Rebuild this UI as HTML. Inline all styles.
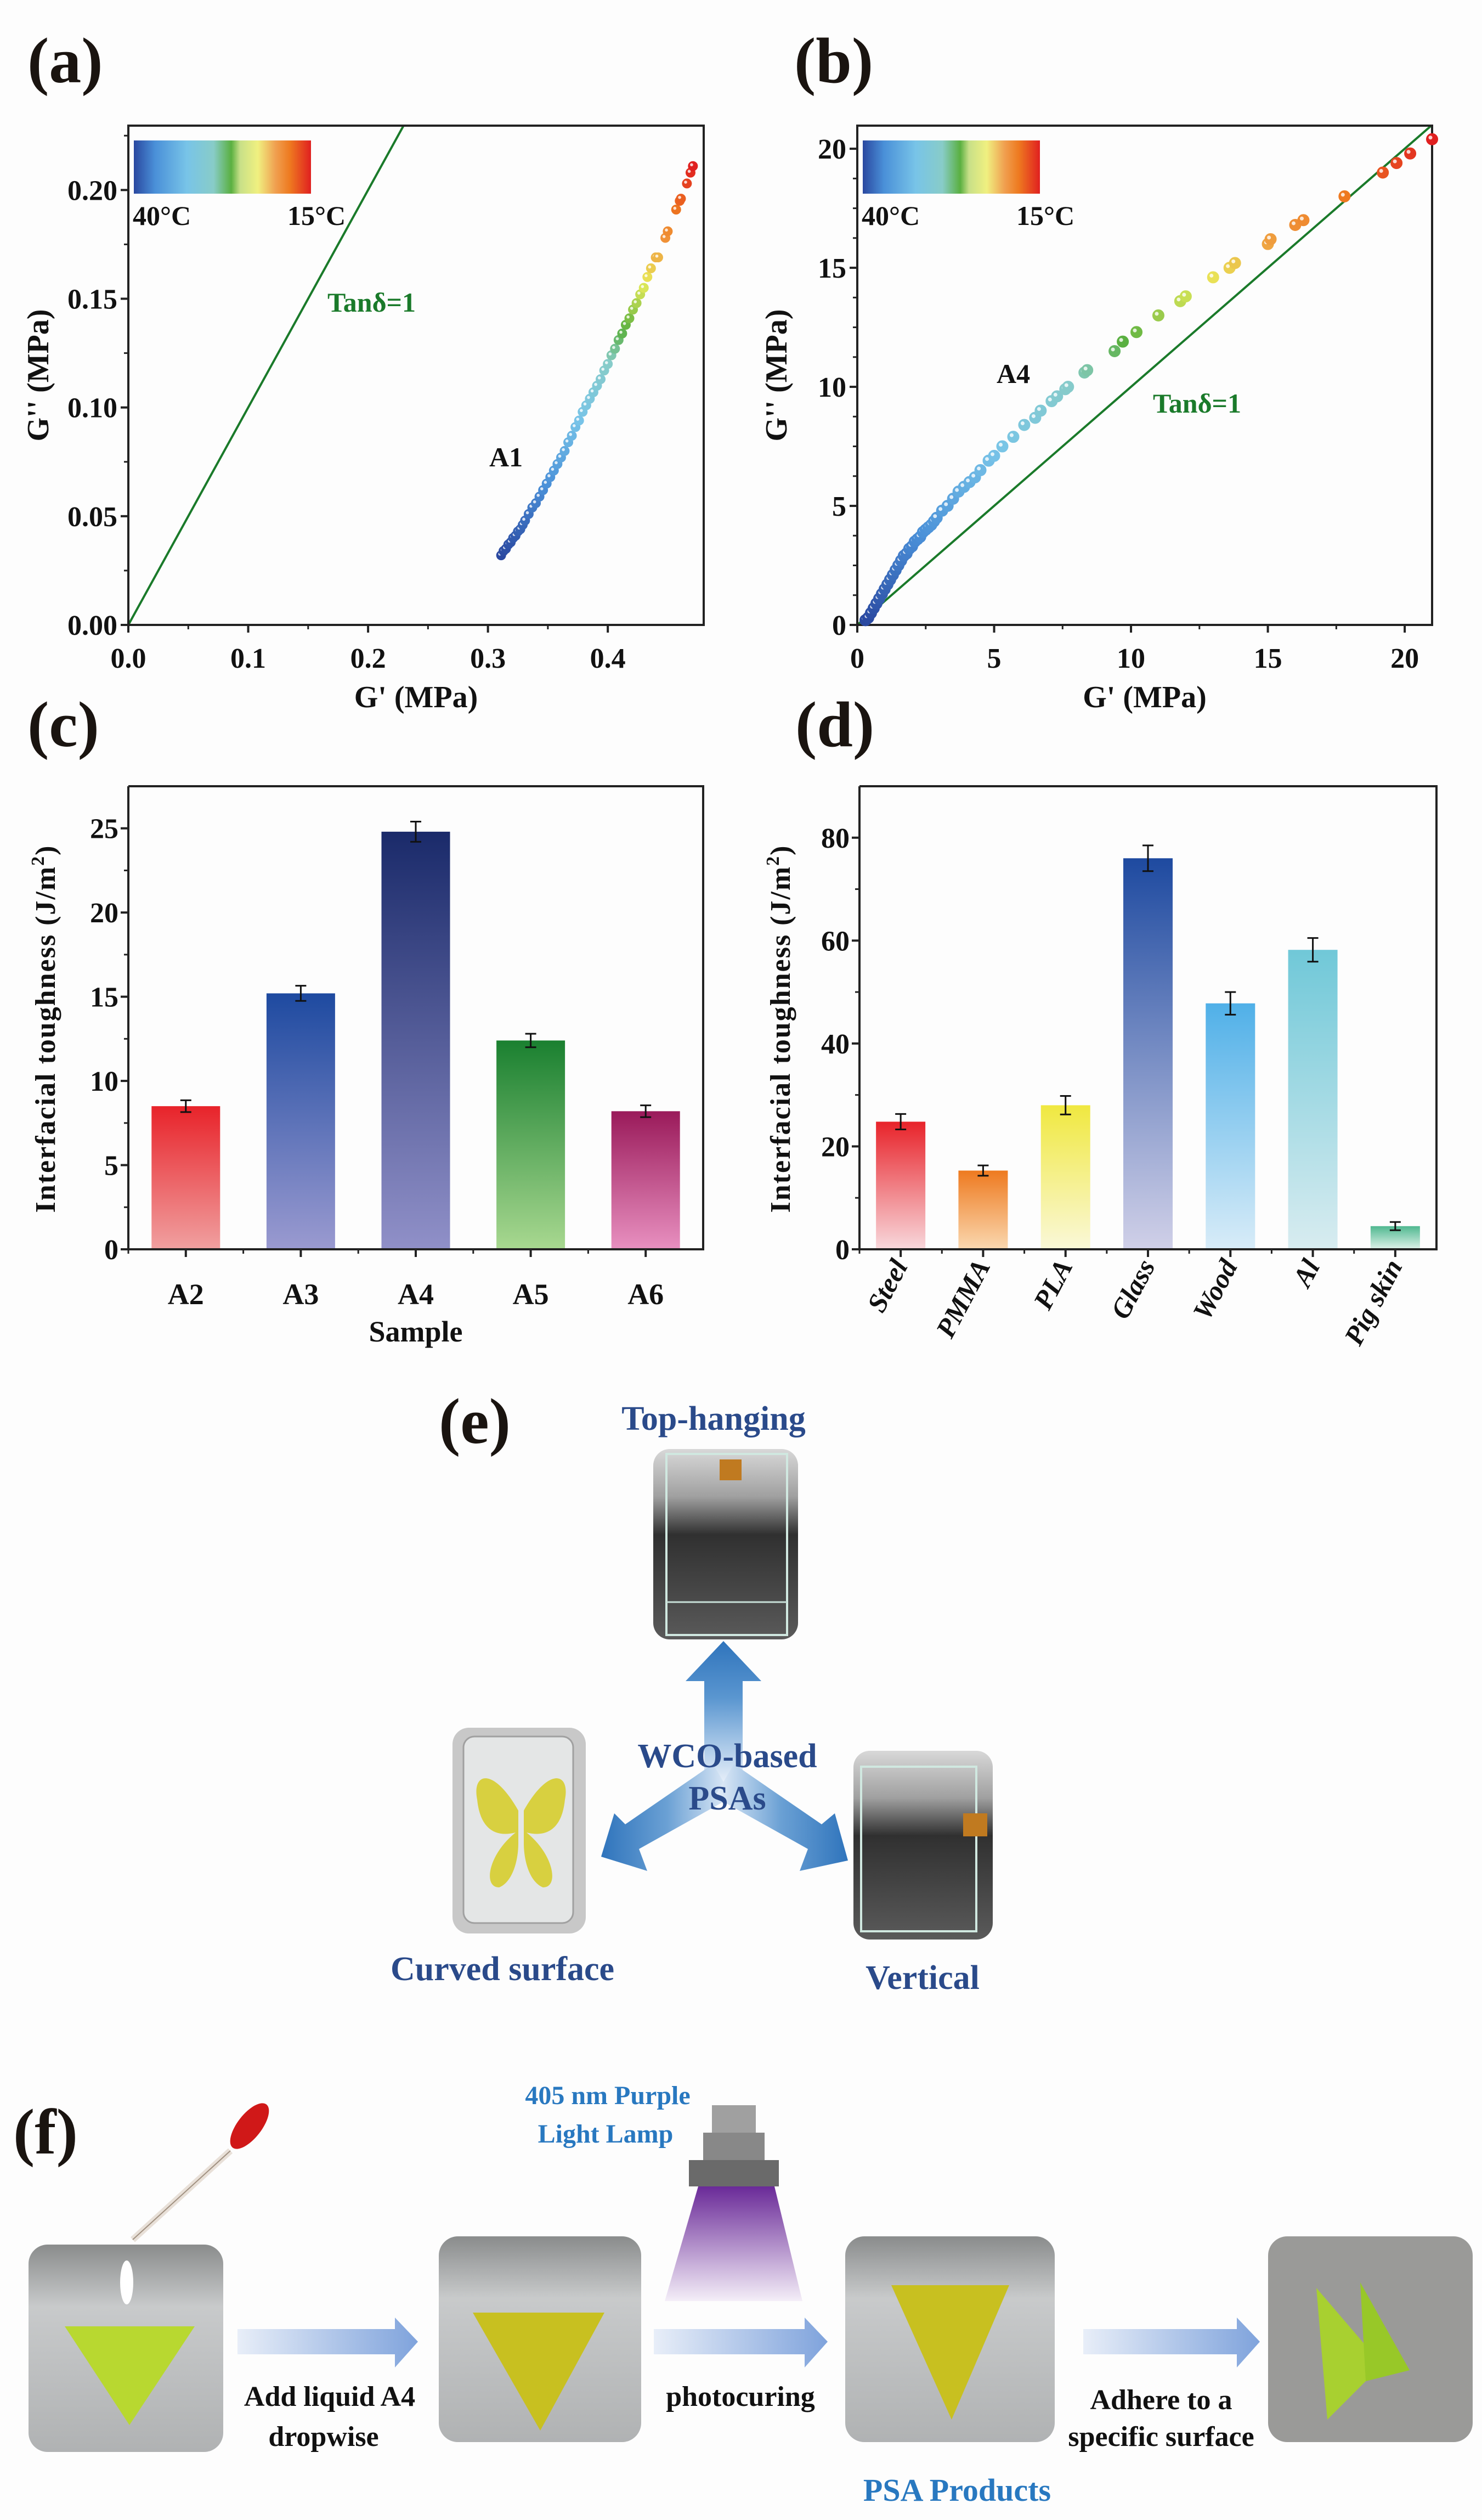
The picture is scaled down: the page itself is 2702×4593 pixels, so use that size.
<!DOCTYPE html>
<html><head><meta charset="utf-8">
<style>
html,body{margin:0;padding:0;background:#fdfdfd;}
svg{display:block;font-family:"Liberation Serif",serif;font-weight:bold;}
</style></head>
<body>
<svg id="fig" width="2702" height="4593" viewBox="0 0 2702 4593" xmlns="http://www.w3.org/2000/svg">
<defs>
 <linearGradient id="cbar" x1="0" x2="1" y1="0" y2="0">
  <stop offset="0" stop-color="#2a48a0"/><stop offset="0.12" stop-color="#4a90d8"/>
  <stop offset="0.3" stop-color="#78c4e8"/><stop offset="0.45" stop-color="#88ccc8"/>
  <stop offset="0.55" stop-color="#5ab040"/><stop offset="0.6" stop-color="#c8e088"/>
  <stop offset="0.7" stop-color="#f0f080"/><stop offset="0.8" stop-color="#f0a050"/>
  <stop offset="0.88" stop-color="#ee7a20"/><stop offset="1" stop-color="#e02020"/>
 </linearGradient>
 <linearGradient id="arrH" x1="0" x2="1"><stop offset="0" stop-color="#e8eef8"/><stop offset="1" stop-color="#7fa3dc"/></linearGradient>
 <linearGradient id="arrU" x1="0" x2="0" y1="1" y2="0"><stop offset="0" stop-color="#e8f0fa"/><stop offset="0.6" stop-color="#5a96d0"/><stop offset="1" stop-color="#2f74bc"/></linearGradient>
 <linearGradient id="arrL" x1="1" x2="0"><stop offset="0" stop-color="#e8f0fa"/><stop offset="0.5" stop-color="#6aa0d4"/><stop offset="1" stop-color="#2f74bc"/></linearGradient>
 <linearGradient id="arrR" x1="0" x2="1"><stop offset="0" stop-color="#e8f0fa"/><stop offset="0.5" stop-color="#6aa0d4"/><stop offset="1" stop-color="#2f74bc"/></linearGradient>
 <linearGradient id="cone" x1="0" x2="0" y1="0" y2="1"><stop offset="0" stop-color="#6a2a98"/><stop offset="1" stop-color="#f4eef8"/></linearGradient>
 <linearGradient id="photoBg" x1="0" x2="0" y1="0" y2="1"><stop offset="0" stop-color="#8a8c8c"/><stop offset="0.3" stop-color="#c8cacb"/><stop offset="1" stop-color="#b0b2b3"/></linearGradient>
 <linearGradient id="boxBg" x1="0" x2="0" y1="0" y2="1"><stop offset="0" stop-color="#d8d8d8"/><stop offset="0.25" stop-color="#a0a0a0"/><stop offset="0.45" stop-color="#303030"/><stop offset="1" stop-color="#5a5a5a"/></linearGradient>
</defs>
<g id="panels"></g>
</svg>
<script>
// ---------- Panel (a) data ----------
const aGp = [0.311,0.313,0.315,0.317,0.319,0.321,0.323,0.325,0.327,0.329,0.331,0.334,0.337,0.340,0.343,0.346,0.349,0.352,0.355,0.358,0.361,0.364,0.367,0.370,0.373,0.376,0.379,0.382,0.385,0.388,0.391,0.394,0.397,0.400,0.403,0.406,0.409,0.412,0.415,0.418,0.421,0.424,0.427,0.430,0.433,0.436,0.440,0.442,0.448,0.450,0.457,0.460,0.461,0.466,0.469,0.471];
const aGpp = [0.032,0.034,0.035,0.037,0.038,0.040,0.041,0.043,0.044,0.046,0.048,0.051,0.054,0.056,0.059,0.062,0.065,0.068,0.071,0.074,0.077,0.080,0.084,0.087,0.091,0.094,0.098,0.101,0.104,0.107,0.110,0.113,0.117,0.120,0.124,0.127,0.131,0.134,0.138,0.141,0.145,0.148,0.152,0.155,0.160,0.164,0.169,0.169,0.178,0.181,0.191,0.195,0.196,0.203,0.208,0.211];
const aXTicks = [0.0,0.1,0.2,0.3,0.4];
const aYTicks = [0.00,0.05,0.10,0.15,0.20];
const aYLabels = ["0.00","0.05","0.10","0.15","0.20"];
// ---------- Panel (b) data ----------
const bGp = [0.3,0.4,0.5,0.6,0.7,0.8,0.9,1.0,1.1,1.2,1.3,1.4,1.5,1.6,1.7,1.8,1.9,2.0,2.1,2.2,2.3,2.4,2.5,2.6,2.7,2.8,2.9,3.1,3.3,3.5,3.7,3.9,4.1,4.3,4.5,4.8,5.0,5.3,5.7,6.1,6.5,6.7,7.1,7.3,7.6,7.7,8.3,8.4,9.4,9.7,10.2,11.0,11.8,12.0,13.0,13.6,13.8,15.0,15.1,16.0,16.3,17.8,19.2,19.7,20.2,21.0];
const bGpp = [0.2,0.3,0.5,0.7,0.9,1.1,1.3,1.5,1.7,1.9,2.1,2.3,2.5,2.7,2.9,3.0,3.2,3.3,3.5,3.6,3.7,3.9,4.0,4.1,4.2,4.35,4.5,4.8,5.0,5.3,5.6,5.8,6.0,6.2,6.5,6.9,7.1,7.5,7.9,8.4,8.7,9.0,9.4,9.6,9.9,10.0,10.6,10.7,11.5,11.9,12.3,13.0,13.6,13.8,14.6,15.0,15.2,16.0,16.2,16.8,17.0,18.0,19.0,19.4,19.8,20.4];
const bXTicks = [0,5,10,15,20];
const bYTicks = [0,5,10,15,20];
// ---------- Panel (c) data ----------
const cCats = ["A2","A3","A4","A5","A6"];
const cVals = [8.5,15.2,24.8,12.4,8.2];
const cErrs = [0.35,0.45,0.6,0.4,0.35];
const cTicks = [0,5,10,15,20,25];
// ---------- Panel (d) data ----------
const dCats = ["Steel","PMMA","PLA","Glass","Wood","Al","Pig skin"];
const dVals = [24.8,15.3,28.0,76.0,47.8,58.2,4.5];
const dErrs = [1.5,1.0,1.8,2.5,2.2,2.3,0.8];
const dTicks = [0,20,40,60,80];

const NS="http://www.w3.org/2000/svg";
const root=document.getElementById('panels');
function mk(tag,attrs,parent,txt){const e=document.createElementNS(NS,tag);for(const k in attrs)e.setAttribute(k,attrs[k]);if(txt!==undefined)e.textContent=txt;(parent||root).appendChild(e);return e;}
function grp(name,parent){const g=mk('g',{},parent);


return g;}

const cstops=[[0,[42,72,160]],[0.18,[74,144,216]],[0.35,[120,196,232]],[0.5,[136,204,200]],[0.58,[90,176,64]],[0.7,[232,236,90]],[0.8,[240,150,60]],[0.88,[238,122,32]],[1,[224,32,32]]];
function cmap(t){t=Math.max(0,Math.min(1,t));for(let i=1;i<cstops.length;i++){if(t<=cstops[i][0]){const a=cstops[i-1],b=cstops[i];const f=(t-a[0])/(b[0]-a[0]);return 'rgb('+a[1].map((v,j)=>Math.round(v+(b[1][j]-v)*f)).join(',')+')';}}return 'rgb(224,32,32)';}

function scatterPanel(o){
 const g=grp(o.name);
 const X=v=>o.L+(v-o.x0)/(o.x1-o.x0)*(o.R-o.L);
 const Y=v=>o.B-(v-o.y0)/(o.y1-o.y0)*(o.B-o.T);
 // label
 const lab=mk('text',{x:o.labX,y:o.labY,'font-size':118,fill:'#1a1410'},g,o.letter);
 
 
 // tan line
 const tl=mk('line',{x1:X(0),y1:Y(0),x2:X(o.lineEnd),y2:Y(o.lineEnd),stroke:'#1a7a2a','stroke-width':4},g);
 
 
 // ticks
 const ax=grp('axes',g);
 o.xt.forEach((v,i)=>{mk('line',{x1:X(v),x2:X(v),y1:o.B,y2:o.B+14,stroke:'#222','stroke-width':4},ax);
   const t=mk('text',{x:X(v),y:o.B+78,'text-anchor':'middle','font-size':52,fill:'#111'},ax,o.xl[i]);
   
   
   if(i<o.xt.length-1||o.xMinorEnd){const m=v+(o.xt[1]-o.xt[0])/2; if(m<o.x1) mk('line',{x1:X(m),x2:X(m),y1:o.B,y2:o.B+8,stroke:'#222','stroke-width':3},ax);}});
 o.yt.forEach((v,i)=>{mk('line',{x1:o.L-14,x2:o.L,y1:Y(v),y2:Y(v),stroke:'#222','stroke-width':4},ax);
   const t=mk('text',{x:o.L-20,y:Y(v)+18,'text-anchor':'end','font-size':52,fill:'#111'},ax,o.yl[i]);
   
   
   const st=(o.yt[1]-o.yt[0])/(o.yMinor||2);for(let k=1;k<(o.yMinor||2);k++){const m=v+st*k;if(m<o.y1)mk('line',{x1:o.L-8,x2:o.L,y1:Y(m),y2:Y(m),stroke:'#222','stroke-width':3},ax);}});
 const fr=mk('rect',{x:o.L,y:o.T,width:o.R-o.L,height:o.B-o.T,fill:'none',stroke:'#222','stroke-width':4},ax);
 
 
 const xt=mk('text',{x:(o.L+o.R)/2,y:o.B+150,'text-anchor':'middle','font-size':56,fill:'#111'},g,"G' (MPa)");
 
 
 const yt=mk('text',{x:0,y:0,'text-anchor':'middle','font-size':56,fill:'#111',transform:`translate(${o.ytX},${(o.T+o.B)/2}) rotate(-90)`},g,"G'' (MPa)");
 
 
 // colorbar
 const cb=mk('rect',{x:o.L+10,y:256,width:323,height:97,fill:'url(#cbar)'},g);
 
 
 const c1=mk('text',{x:o.L+8,y:410,'font-size':50,fill:'#111'},g,'40°C');
 
 
 const c2=mk('text',{x:o.L+290,y:410,'font-size':50,fill:'#111'},g,'15°C');
 
 
 const tn=mk('text',{x:o.tanX,y:o.tanY,'font-size':50,fill:'#1a7a2a'},g,'Tanδ=1');
 
 
 const sn=mk('text',{x:o.snX,y:o.snY,'font-size':50,fill:'#111'},g,o.sample);
 
 
 // points
 const pg=grp('data-points',g);
 const ymax=Math.max(...o.ys),ymin=Math.min(...o.ys);
 o.xs.forEach((v,i)=>{const col=cmap((o.ys[i]-ymin)/(ymax-ymin));
   const c=mk('circle',{cx:X(v),cy:Y(o.ys[i]),r:o.r,fill:col,stroke:col,'stroke-width':2},pg);
   
   
   mk('circle',{cx:X(v)-o.r*0.3,cy:Y(o.ys[i])-o.r*0.3,r:o.r*0.35,fill:'#fff','fill-opacity':0.8},pg);});
}
scatterPanel({name:'panel-a',letter:'(a)',labX:50,labY:150,L:234,R:1283,T:229,B:1139,x0:0,x1:0.48,y0:0,y1:0.2296,
 xt:aXTicks,xl:aXTicks.map(v=>v.toFixed(1)),yt:aYTicks,yl:aYLabels,lineEnd:0.2296,ytX:88,tanX:597,tanY:568,snX:892,snY:850,sample:'A1',
 xs:aGp,ys:aGpp,r:8});
scatterPanel({name:'panel-b',letter:'(b)',labX:1448,labY:150,L:1563,R:2611,T:229,B:1139,x0:0,x1:21,y0:0,y1:20.97,
 xt:bXTicks,xl:bXTicks.map(String),yt:bYTicks,yl:bYTicks.map(String),yMinor:4,lineEnd:20.97,ytX:1434,tanX:2102,tanY:752,snX:1817,snY:698,sample:'A4',
 xs:bGp,ys:bGpp,r:10});

// ---------- bar panels ----------
const cCols=[['#e8232a','#f0a0a0'],['#1e4aa0','#9a9ad0'],['#1a2a6a','#9090c8'],['#1a8030','#a8d890'],['#9a1a5a','#e890c0']];
const dCols=[['#e8232a','#f8d8dc'],['#ee7a20','#fad8b0'],['#f0e840','#faf8d8'],['#1e4aa0','#d0d0e8'],['#50b0e8','#d8ecf8'],['#70c8d8','#d8ecf0'],['#50b890','#e0f2ea']];
function barPanel(o){
 const g=grp(o.name);
 const Y=v=>o.B-v/o.ymax*(o.B-o.T);
 const n=o.cats.length, step=(o.R-o.L)/n;
 const X=i=>o.L+step*(i+0.5);
 const lab=mk('text',{x:o.labX,y:1360,'font-size':118,fill:'#1a1410'},g,o.letter);
 
 
 const defs=document.querySelector('defs');
 o.vals.forEach((v,i)=>{
  const gid=o.name+'g'+i;
  const lg=mk('linearGradient',{id:gid,x1:0,x2:0,y1:0,y2:1},defs);
  mk('stop',{offset:0,'stop-color':o.cols[i][0]},lg);mk('stop',{offset:1,'stop-color':o.cols[i][1]},lg);
  const b=mk('rect',{x:X(i)-o.bw/2,y:Y(v),width:o.bw,height:o.B-Y(v),fill:`url(#${gid})`},g);
  
  
  const e=grp('error-bar',g);
  const e1=Y(v+o.errs[i]),e2=Y(v-o.errs[i]);
  mk('line',{x1:X(i),x2:X(i),y1:e1,y2:e2,stroke:'#111','stroke-width':3},e);
  mk('line',{x1:X(i)-10,x2:X(i)+10,y1:e1,y2:e1,stroke:'#111','stroke-width':3},e);
  mk('line',{x1:X(i)-10,x2:X(i)+10,y1:e2,y2:e2,stroke:'#111','stroke-width':3},e);
  mk('line',{x1:X(i),x2:X(i),y1:o.B,y2:o.B+14,stroke:'#222','stroke-width':4},g);
  mk('line',{x1:o.L+step*i,x2:o.L+step*i,y1:o.B,y2:o.B+8,stroke:'#222','stroke-width':3},g);
  let t;
  if(o.rot){t=mk('text',{x:0,y:0,'text-anchor':'end','font-size':50,'font-style':'italic',fill:'#111',transform:`translate(${X(i)+14},${o.B+30}) rotate(-62)`},g,o.cats[i]);}
  else {t=mk('text',{x:X(i),y:o.B+100,'text-anchor':'middle','font-size':54,fill:'#111'},g,o.cats[i]);}
  
  
 });
 o.ticks.forEach((v,i)=>{mk('line',{x1:o.L-14,x2:o.L,y1:Y(v),y2:Y(v),stroke:'#222','stroke-width':4},g);
  const m=v+(o.ticks[1]-o.ticks[0])/2; if(m<o.ymax) mk('line',{x1:o.L-8,x2:o.L,y1:Y(m),y2:Y(m),stroke:'#222','stroke-width':3},g);
  const t=mk('text',{x:o.L-18,y:Y(v)+18,'text-anchor':'end','font-size':52,fill:'#111'},g,String(v));
  
  });
 mk('polyline',{points:`${o.L},${o.T} ${o.L},${o.B} ${o.R},${o.B} ${o.R},${o.T} ${o.L},${o.T}`,fill:'none',stroke:'#222','stroke-width':4},g);
 const yt=mk('text',{x:0,y:0,'text-anchor':'middle','font-size':52,fill:'#111','letter-spacing':2,transform:`translate(${o.ytX},${(o.T+o.B)/2+20}) rotate(-90)`},g);
 
 
 mk('tspan',{},yt,'Interfacial toughness (J/m');mk('tspan',{dy:-20,'font-size':34},yt,'2');mk('tspan',{dy:20},yt,')');
 if(o.xtitle){const xt=mk('text',{x:(o.L+o.R)/2,y:o.B+168,'text-anchor':'middle','font-size':54,fill:'#111'},g,o.xtitle);
  
  }
}
barPanel({name:'panel-c',letter:'(c)',labX:50,L:234,R:1282,T:1433,B:2277,ymax:27.5,cats:cCats,vals:cVals,errs:cErrs,ticks:cTicks,cols:cCols,bw:125,ytX:100,xtitle:'Sample'});
barPanel({name:'panel-d',letter:'(d)',labX:1450,L:1567,R:2619,T:1433,B:2277,ymax:90,cats:dCats,vals:dVals,errs:dErrs,ticks:dTicks,cols:dCols,bw:90,ytX:1440,rot:true});
</script>

<!-- Panel (e) -->
<svg style="position:absolute;left:0;top:0" width="2702" height="4593" xmlns="http://www.w3.org/2000/svg" font-family="Liberation Serif, serif" font-weight="bold">
 <g>
  <text x="800" y="2630" font-size="118" fill="#1a1410">(e)</text>
  <text x="1301" y="2606" font-size="62" fill="#2a4a8a" text-anchor="middle">Top-hanging</text>
  <g>
   <rect x="1191" y="2641" width="264" height="347" rx="30" fill="url(#boxBg)"/>
   <rect x="1215" y="2650" width="220" height="330" fill="none" stroke="#d0e8e0" stroke-width="4"/>
   <line x1="1215" y1="2920" x2="1435" y2="2920" stroke="#c8e0d8" stroke-width="3"/>
   <rect x="1312" y="2660" width="40" height="38" fill="#c07a20"/>
  </g>
  <g>
   <polygon points="1319,2991 1388,3064 1354,3064 1354,3250 1284,3250 1284,3064 1250,3064" fill="url(#arrU)"/>
   <polygon points="1300,3215 1335,3275 1165,3370 1180,3410 1096,3384 1120,3305 1140,3325" fill="url(#arrL)"/>
   <polygon points="1338,3215 1303,3275 1473,3370 1458,3410 1546,3391 1522,3305 1498,3325" fill="url(#arrR)"/>
  </g>
  <text x="1326" y="3221" font-size="62" fill="#2a4a8a" text-anchor="middle">WCO-based</text>
  <text x="1326" y="3298" font-size="62" fill="#2a4a8a" text-anchor="middle">PSAs</text>
  <g>
   <rect x="825" y="3149" width="243" height="375" rx="30" fill="#c8c8c8"/>
   <rect x="845" y="3165" width="200" height="340" rx="20" fill="#e4e6e6" stroke="#a0a0a0" stroke-width="3"/>
   <path d="M945,3300 C900,3220 860,3230 870,3280 C875,3330 900,3350 940,3340 C890,3380 880,3440 910,3440 C935,3430 945,3390 945,3360 Z" fill="#d8d040"/>
   <path d="M955,3300 C1000,3220 1040,3230 1030,3280 C1025,3330 1000,3350 960,3340 C1010,3380 1020,3440 990,3440 C965,3430 955,3390 955,3360 Z" fill="#d8d040"/>
  </g>
  <g>
   <rect x="1556" y="3191" width="254" height="344" rx="30" fill="url(#boxBg)"/>
   <rect x="1570" y="3220" width="210" height="300" fill="none" stroke="#d0e8e0" stroke-width="4"/>
   <rect x="1756" y="3305" width="44" height="42" fill="#c07a20"/>
  </g>
  <text x="916" y="3609" font-size="62" fill="#2a4a8a" text-anchor="middle">Curved surface</text>
  <text x="1682" y="3625" font-size="62" fill="#2a4a8a" text-anchor="middle">Vertical</text>
 </g>

 <g>
  <text x="24" y="3925" font-size="118" fill="#1a1410">(f)</text>
  <text x="1108" y="3835" font-size="48" fill="#2878c0" text-anchor="middle">405 nm Purple</text>
  <text x="1104" y="3905" font-size="48" fill="#2878c0" text-anchor="middle">Light Lamp</text>
  <g>
   <polygon points="1273,3985 1412,3985 1463,4194 1212,4194" fill="url(#cone)"/>
   <rect x="1298" y="3837" width="80" height="50" fill="#a0a0a0"/>
   <rect x="1282" y="3887" width="112" height="50" fill="#888"/>
   <rect x="1256" y="3937" width="164" height="48" fill="#6a6a6a"/>
  </g>
  <g>
   <line x1="242" y1="4082" x2="420" y2="3920" stroke="#e8e0d8" stroke-width="12"/>
   <line x1="242" y1="4082" x2="420" y2="3920" stroke="#a09080" stroke-width="2"/>
   <ellipse cx="455" cy="3875" rx="22" ry="50" transform="rotate(38 455 3875)" fill="#d01818"/>
  </g>
  <g>
   <rect x="52" y="4091" width="355" height="378" rx="35" fill="url(#photoBg)"/>
   <polygon points="118,4240 355,4240 236,4420" fill="#b8d830"/>
   <ellipse cx="231" cy="4160" rx="12" ry="40" fill="#fff"/>
  </g>
  <g>
   <rect x="800" y="4076" width="369" height="375" rx="35" fill="url(#photoBg)"/>
   <polygon points="862,4215 1102,4215 985,4430" fill="#c8c020"/>
  </g>
  <g>
   <rect x="1541" y="4076" width="382" height="375" rx="35" fill="url(#photoBg)"/>
   <polygon points="1625,4165 1840,4165 1735,4410" fill="#c8c020"/>
  </g>
  <g>
   <rect x="2312" y="4076" width="373" height="375" rx="35" fill="#9a9a98"/>
   <polygon points="2400,4170 2520,4310 2420,4410" fill="#a8d030"/>
   <polygon points="2480,4160 2570,4320 2490,4340" fill="#98c828"/>
  </g>
  <g>
   <polygon points="433,4245 720,4245 720,4224 762,4268 720,4315 720,4291 433,4291" fill="url(#arrH)"/>
   <polygon points="1192,4245 1467,4245 1467,4224 1509,4268 1467,4315 1467,4291 1192,4291" fill="url(#arrH)"/>
   <polygon points="1975,4245 2255,4245 2255,4224 2297,4268 2255,4315 2255,4291 1975,4291" fill="url(#arrH)"/>
  </g>
  <text x="601" y="4385" font-size="52" fill="#111" text-anchor="middle">Add liquid A4</text>
  <text x="590" y="4458" font-size="52" fill="#111" text-anchor="middle">dropwise</text>
  <text x="1350" y="4385" font-size="52" fill="#111" text-anchor="middle">photocuring</text>
  <text x="2117" y="4391" font-size="52" fill="#111" text-anchor="middle">Adhere to a</text>
  <text x="2117" y="4458" font-size="52" fill="#111" text-anchor="middle">specific surface</text>
  <text x="1745" y="4558" font-size="58" fill="#2878c0" text-anchor="middle">PSA Products</text>
 </g>
</svg>
</body></html>
